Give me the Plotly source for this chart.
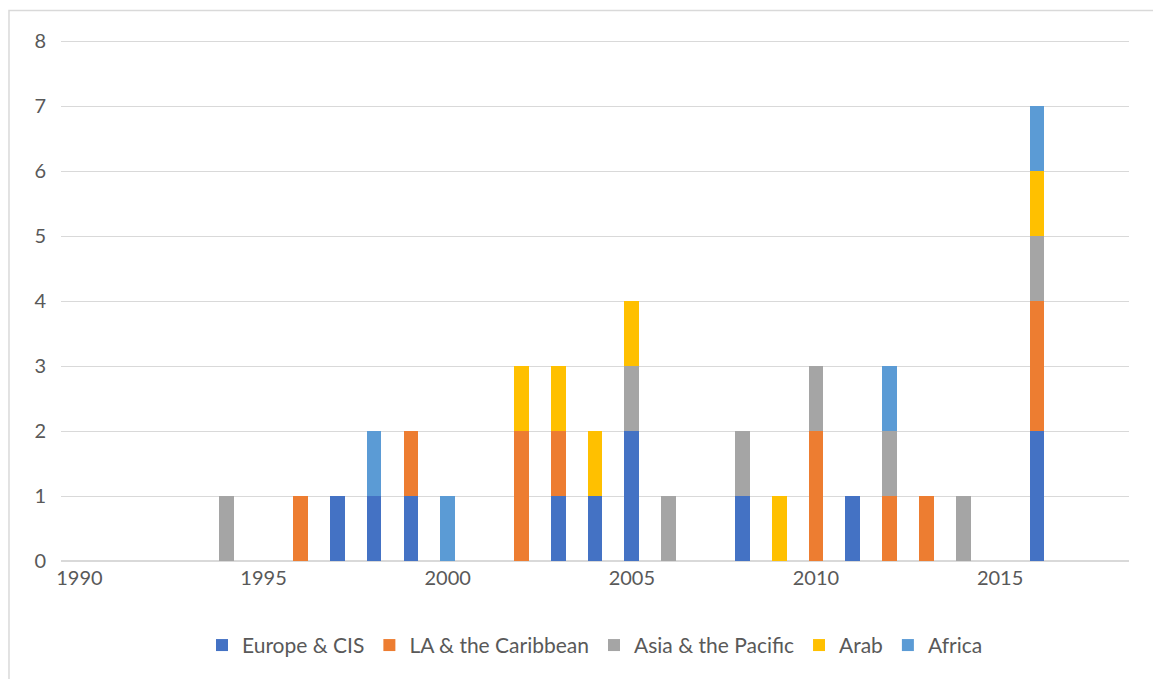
import plotly.graph_objects as go

years = [1994, 1996, 1997, 1998, 1999, 2000, 2002, 2003, 2004, 2005, 2006,
         2008, 2009, 2010, 2011, 2012, 2013, 2014, 2016]
europe_cis = [0, 0, 1, 1, 1, 0, 0, 1, 1, 2, 0, 1, 0, 0, 1, 0, 0, 0, 2]
la_caribbean = [0, 1, 0, 0, 1, 0, 2, 1, 0, 0, 0, 0, 0, 2, 0, 1, 1, 0, 2]
asia_pacific = [1, 0, 0, 0, 0, 0, 0, 0, 0, 1, 1, 1, 0, 1, 0, 1, 0, 1, 1]
arab = [0, 0, 0, 0, 0, 0, 1, 1, 1, 1, 0, 0, 1, 0, 0, 0, 0, 0, 1]
africa = [0, 0, 0, 1, 0, 1, 0, 0, 0, 0, 0, 0, 0, 0, 0, 1, 0, 0, 1]

series = [
    ("Europe & CIS", europe_cis, "#4472C4"),
    ("LA & the Caribbean", la_caribbean, "#ED7D31"),
    ("Asia & the Pacific", asia_pacific, "#A5A5A5"),
    ("Arab", arab, "#FFC000"),
    ("Africa", africa, "#5B9BD5"),
]

fig = go.Figure()
for name, vals, color in series:
    fig.add_trace(go.Bar(x=years, y=vals, name=name, width=0.4,
                         marker=dict(color=color, line=dict(width=0))))

font_family = "Lato, 'Open Sans', sans-serif"
fig.update_layout(
    barmode="stack",
    width=1153, height=679,
    margin=dict(l=61, r=24, t=40.2, b=118),
    paper_bgcolor="white", plot_bgcolor="white",
    font=dict(family=font_family, size=20, color="#595959"),
    xaxis=dict(range=[1989.5, 2018.5], tickmode="linear", tick0=1990, dtick=5,
               showgrid=False, zeroline=False, showline=False, ticks="",
               tickfont=dict(size=20, color="#595959"), ticklabelstandoff=3),
    yaxis=dict(range=[0, 8.02], tickmode="linear", tick0=0, dtick=1,
               showgrid=True, gridcolor="#d9d9d9", gridwidth=1.3,
               zeroline=True, zerolinecolor="#d9d9d9", zerolinewidth=1.5,
               showline=False, ticks="", tickfont=dict(size=20, color="#595959"),
               ticklabelstandoff=14),
    legend=dict(orientation="h", x=0.5, xanchor="center", y=-0.162, yanchor="middle",
                font=dict(size=21, color="#595959"), traceorder="normal",
                itemwidth=30),
    bargap=0,
    shapes=[dict(type="rect", xref="paper", yref="paper",
                 x0=-0.0487, x1=1.05, y0=-0.3, y1=1.0568,
                 line=dict(color="#d9d9d9", width=1.5), fillcolor="rgba(0,0,0,0)",
                 layer="below")],
)

fig.write_html("out.html")
